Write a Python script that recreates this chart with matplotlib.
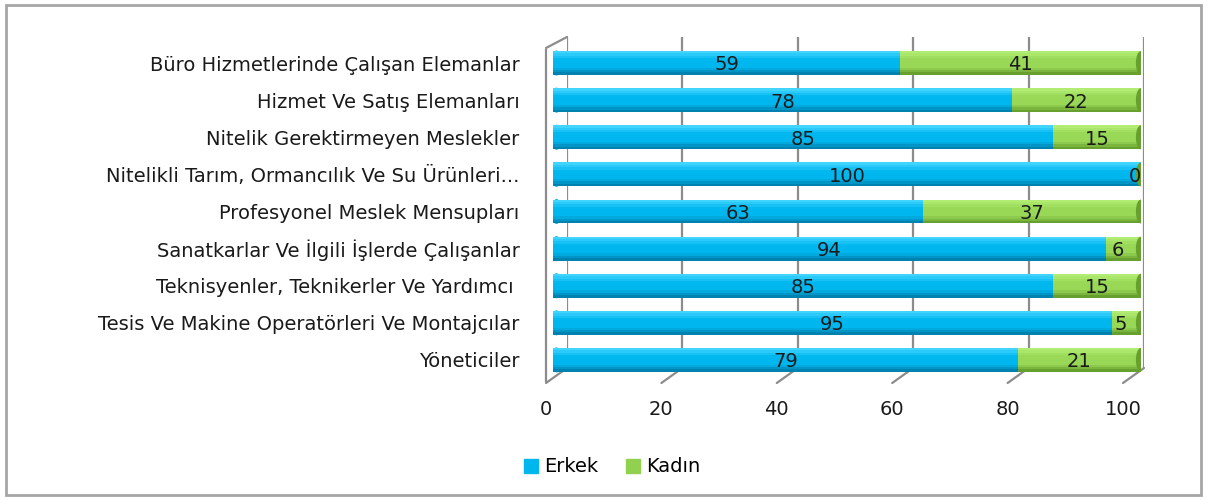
import numpy as np
import matplotlib
matplotlib.use("Agg")
import matplotlib.pyplot as plt
from matplotlib.patches import Rectangle, Ellipse
from matplotlib.colors import to_rgb
from matplotlib.transforms import ScaledTranslation

# occupation groups, top to bottom
categories = [
    "Büro Hizmetlerinde Çalışan Elemanlar",
    "Hizmet Ve Satış Elemanları",
    "Nitelik Gerektirmeyen Meslekler",
    "Nitelikli Tarım, Ormancılık Ve Su Ürünleri...",
    "Profesyonel Meslek Mensupları",
    "Sanatkarlar Ve İlgili İşlerde Çalışanlar",
    "Teknisyenler, Teknikerler Ve Yardımcı ",
    "Tesis Ve Makine Operatörleri Ve Montajcılar",
    "Yöneticiler",
]
erkek = [59, 78, 85, 100, 63, 94, 85, 95, 79]
kadin = [41, 22, 15, 0, 37, 6, 15, 5, 21]
x_ticks = [0, 20, 40, 60, 80, 100]

BLUE = "#00B6EE"
BLUE_DARK = "#0082B0"
BLUE_LIGHT = "#40D4FF"
GREEN = "#98D856"
GREEN_DARK = "#68A030"
GREEN_LIGHT = "#B2EC72"
GRID = "#8C8C8C"
TXT = "#1A1A1A"

plt.rcParams["font.family"] = "DejaVu Sans"

W, H = 1207, 500
fig = plt.figure(figsize=(W / 100, H / 100), dpi=100)

# outer chart border
fig.patches.append(Rectangle((6 / W, 5 / H), 1195 / W, 490 / H, transform=fig.transFigure,
                             fill=False, edgecolor="#A6A6A6", lw=2))

# back wall of the 3d plot area
wall = fig.add_axes([567 / W, 1 - 368 / H, 577 / W, 331 / H])
wall.set_xlim(0, 100)
wall.set_ylim(0, 1)
wall.set_yticks([])
wall.set_xticks(x_ticks)
wall.set_xticklabels([str(t) for t in x_ticks], fontsize=14, color=TXT)
wall.tick_params(axis="x", length=0, pad=23)
for lab in wall.get_xticklabels():
    lab.set_transform(lab.get_transform() + ScaledTranslation(-0.21, 0, fig.dpi_scale_trans))
for s in wall.spines.values():
    s.set_visible(False)
for t in x_ticks:
    wall.axvline(t, color=GRID, lw=1.6)
    # floor edge ticks
    wall.annotate("", xy=(t, 0), xytext=(-21, -15), textcoords="offset pixels",
                  arrowprops=dict(arrowstyle="-", color=GRID, lw=1.6, shrinkA=0, shrinkB=0))
# side wall
wall.annotate("", xy=(0, 1), xytext=(-21, -11), textcoords="offset pixels",
              arrowprops=dict(arrowstyle="-", color=GRID, lw=1.6, shrinkA=0, shrinkB=0))
wall.plot([0, 0], [0, 1], color=GRID, lw=1.6, clip_on=False,
          transform=wall.transData + ScaledTranslation(-0.21, -0.13, fig.dpi_scale_trans))

# bars in front of the wall
ax = fig.add_axes([553 / W, 1 - 378.5 / H, 588 / W, 334 / H])
ax.patch.set_alpha(0)
y = np.arange(len(categories))
h = 0.64
e = np.array(erkek)
k = np.array(kadin)


def shade(light, base, dark, n=10):
    # colours from top edge to bottom edge of a cylinder
    light, base, dark = map(np.array, (to_rgb(light), to_rgb(base), to_rgb(dark)))
    out = []
    for f in np.linspace(0, 1, n):
        if f < 0.35:
            c = light + (base - light) * f / 0.35
        elif f < 0.7:
            c = base
        else:
            c = base + (dark - base) * (f - 0.7) / 0.3
        out.append(c)
    return out


def cylinder(left, width, light, base, dark):
    cols = shade(light, base, dark)
    n = len(cols)
    bh = h / n
    for i, c in enumerate(cols):
        ax.barh(y - h / 2 + bh * (i + 0.5), width, left=left, height=bh * 1.05,
                color=c, edgecolor="none", zorder=2)


cylinder(0, e, BLUE_LIGHT, BLUE, BLUE_DARK)
cylinder(e, k, GREEN_LIGHT, GREEN, GREEN_DARK)
for yi in y:
    ax.add_patch(Ellipse((0.6, yi), 1.2, h, color=BLUE, zorder=1))
    ax.add_patch(Ellipse((100, yi), 1.5, h * 0.95, color=GREEN_DARK, zorder=4))

for yi, a, b in zip(y, e, k):
    ax.text(a / 2, yi + 0.05, str(a), ha="center", va="center", fontsize=14, color=TXT, zorder=5)
    ax.text(a + b / 2 - (1 if b < 8 else 0), yi + 0.05, str(b), ha="center", va="center",
            fontsize=14, color=TXT, zorder=5)

ax.set_xlim(0, 100)
ax.set_ylim(len(categories) - 0.5, -0.5)
ax.set_xticks([])
ax.set_yticks(y)
ax.set_yticklabels(categories, fontsize=14, color=TXT)
ax.tick_params(axis="y", length=0, pad=24)
for s in ax.spines.values():
    s.set_visible(False)

# legend
handles = [Rectangle((0, 0), 1, 1, color=BLUE), Rectangle((0, 0), 1, 1, color="#92D050")]
fig.legend(handles, ["Erkek", "Kadın"], loc="center", bbox_to_anchor=(612 / W, 1 - 467 / H),
           ncol=2, frameon=False, fontsize=14, handlelength=0.75, handleheight=0.75,
           handletextpad=0.3, columnspacing=1.4)

fig.savefig("out.png", dpi=100)
